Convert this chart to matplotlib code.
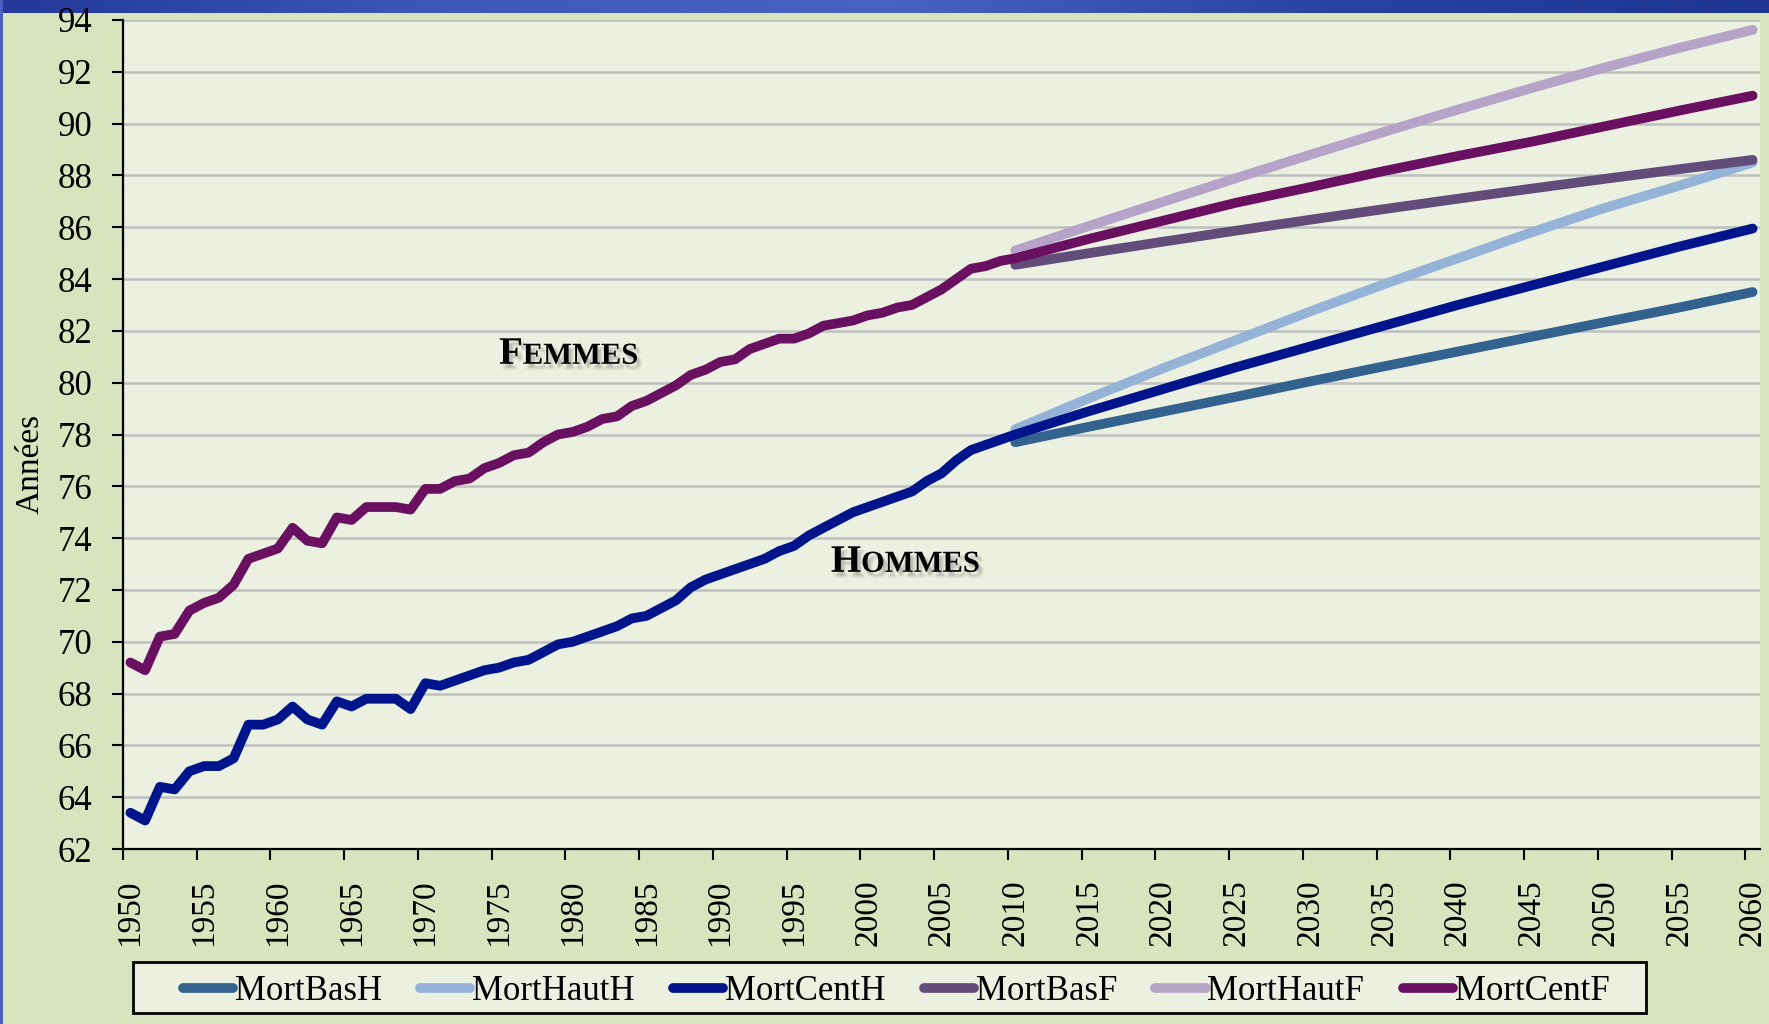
import matplotlib
matplotlib.use('Agg')
import matplotlib.pyplot as plt
import matplotlib.patheffects as pe
from matplotlib.patches import Rectangle
from matplotlib.colors import LinearSegmentedColormap
import numpy as np

# ---------------- data ----------------
years_hist = list(range(1950, 2010))
hommes_hist = [63.4, 63.1, 64.4, 64.3, 65.0, 65.2, 65.2, 65.5, 66.8, 66.8,
               67.0, 67.5, 67.0, 66.8, 67.7, 67.5, 67.8, 67.8, 67.8, 67.4,
               68.4, 68.3, 68.5, 68.7, 68.9, 69.0, 69.2, 69.3, 69.6, 69.9,
               70.0, 70.2, 70.4, 70.6, 70.9, 71.0, 71.3, 71.6, 72.1, 72.4,
               72.6, 72.8, 73.0, 73.2, 73.5, 73.7, 74.1, 74.4, 74.7, 75.0,
               75.2, 75.4, 75.6, 75.8, 76.2, 76.5, 77.0, 77.4, 77.6, 77.8]
femmes_hist = [69.2, 68.9, 70.2, 70.3, 71.2, 71.5, 71.7, 72.2, 73.2, 73.4,
               73.6, 74.4, 73.9, 73.8, 74.8, 74.7, 75.2, 75.2, 75.2, 75.1,
               75.9, 75.9, 76.2, 76.3, 76.7, 76.9, 77.2, 77.3, 77.7, 78.0,
               78.1, 78.3, 78.6, 78.7, 79.1, 79.3, 79.6, 79.9, 80.3, 80.5,
               80.8, 80.9, 81.3, 81.5, 81.7, 81.7, 81.9, 82.2, 82.3, 82.4,
               82.6, 82.7, 82.9, 83.0, 83.3, 83.6, 84.0, 84.4, 84.5, 84.7]

years_proj = [2010, 2015, 2020, 2025, 2030, 2035, 2040, 2045, 2050, 2055, 2060]
mort_bas_h = [77.7, 78.3, 78.88, 79.46, 80.05, 80.63, 81.2, 81.77, 82.34, 82.9, 83.5]
mort_haut_h = [78.2, 79.4, 80.55, 81.65, 82.75, 83.8, 84.8, 85.8, 86.75, 87.6, 88.5]
mort_cent_h_proj = [78.0, 78.9, 79.75, 80.6, 81.4, 82.2, 83.0, 83.75, 84.5, 85.25, 85.95]
mort_bas_f = [84.55, 85.0, 85.44, 85.87, 86.29, 86.7, 87.1, 87.49, 87.87, 88.24, 88.6]
mort_haut_f = [85.1, 86.05, 86.98, 87.9, 88.8, 89.68, 90.54, 91.37, 92.17, 92.92, 93.62]
mort_cent_f_proj = [84.8, 85.55, 86.25, 86.95, 87.55, 88.17, 88.75, 89.3, 89.9, 90.5, 91.08]

series_names = ['MortBasH', 'MortHautH', 'MortCentH', 'MortBasF', 'MortHautF', 'MortCentF']
series_colors = ['#33628F', '#95B3D7', '#00148C', '#614C7A', '#B5A3C8', '#6A1060']

y_ticks = list(range(62, 95, 2))
x_tick_years = list(range(1950, 2061, 5))

# ---------------- figure ----------------
plt.rcParams['font.family'] = ['Liberation Serif', 'DejaVu Serif']

W, H = 1769, 1024
fig = plt.figure(figsize=(W / 100, H / 100), dpi=100, facecolor='#D7E4BD')

# top banner gradient
bax = fig.add_axes([0, 1 - 13 / H, 1, 13 / H])
cmap = LinearSegmentedColormap.from_list('banner', ['#22399A', '#3F58B8', '#4A62C0', '#2A43A0', '#1E3592'])
bax.imshow(np.linspace(0, 1, 512)[None, :], aspect='auto', cmap=cmap, extent=[0, 1, 0, 1])
bax.axis('off')
# left stripe
fig.patches.append(Rectangle((0, 0), 3 / W, 1, transform=fig.transFigure,
                             facecolor='#4A60C0', edgecolor='none'))

ax = fig.add_axes([123 / W, 1 - 849 / H, (1760 - 123) / W, (849 - 20) / H])
ax.set_facecolor('#EBF0E0')

all_series = [
    (years_proj, mort_bas_h),
    (years_proj, mort_haut_h),
    (years_hist + years_proj, hommes_hist + mort_cent_h_proj),
    (years_proj, mort_bas_f),
    (years_proj, mort_haut_f),
    (years_hist + years_proj, femmes_hist + mort_cent_f_proj),
]
handles = []
for (xs, ys), name, col in zip(all_series, series_names, series_colors):
    ln, = ax.plot(xs, ys, color=col, lw=7, solid_capstyle='round',
                  solid_joinstyle='round', label=name, zorder=3)
    handles.append(ln)

ax.set_xlim(1949.5, 2060.5)
ax.set_ylim(62, 94)
ax.set_yticks(y_ticks)
ax.set_xticks(x_tick_years)
ax.set_xticklabels([str(y) for y in x_tick_years], rotation=90)
ax.set_xticks([y - 0.5 for y in x_tick_years], minor=True)
ax.tick_params(axis='x', which='major', length=0, pad=22, labelsize=24)
ax.tick_params(axis='x', which='minor', direction='out', length=8, width=1.5, color='black')
ax.tick_params(axis='y', which='major', direction='out', length=8, width=1.5, pad=14, labelsize=25)

ax.yaxis.grid(True, color='#BFBFBF', lw=1.8)
ax.set_axisbelow(True)
for s in ['top', 'right']:
    ax.spines[s].set_visible(False)
for s in ['left', 'bottom']:
    ax.spines[s].set_linewidth(1.6)
    ax.spines[s].set_zorder(4)

ax.set_ylabel('Années', fontsize=24, va='center')
ax.yaxis.set_label_coords(-0.0568, 0.464)

# soft (blur-like) shadow built from several faint offset copies
shadow = []
for dx, dy in [(1.5, -2.5), (2.5, -3.5), (3.5, -4.5), (2.5, -2.5), (1.5, -4), (3.5, -3)]:
    shadow.append(pe.SimplePatchShadow(offset=(dx, dy), shadow_rgbFace='#606060', alpha=0.07))
shadow.append(pe.Normal())
fig.canvas.draw()


def small_caps(x, y, first, rest):
    t1 = ax.text(x, y, first, fontsize=28, fontweight='bold', va='baseline', ha='left',
                 path_effects=shadow, zorder=5)
    fig.canvas.draw()
    bb = t1.get_window_extent()
    x2 = ax.transData.inverted().transform((bb.x1, 0))[0]
    ax.text(x2, y, rest, fontsize=22, fontweight='bold', va='baseline', ha='left',
            path_effects=shadow, zorder=5)


small_caps(1975.0, 80.73, 'F', 'EMMES')
small_caps(1997.5, 72.7, 'H', 'OMMES')

# legend
fig.patches.append(Rectangle((133 / W, 1 - 1013 / H), (1646 - 133) / W, (1013 - 962) / H,
                             transform=fig.transFigure, facecolor='#EBF0E0',
                             edgecolor='black', lw=2, zorder=1))
leg = fig.legend(handles=handles, labels=series_names, loc='center',
                 bbox_to_anchor=(896 / W, 1 - 992 / H), ncol=6, frameon=False,
                 fontsize=25, handlelength=1.45, handletextpad=0.05, columnspacing=1.1,
                 borderpad=0.1)
leg.set_zorder(6)

fig.savefig('out.png', dpi=100, facecolor=fig.get_facecolor())
